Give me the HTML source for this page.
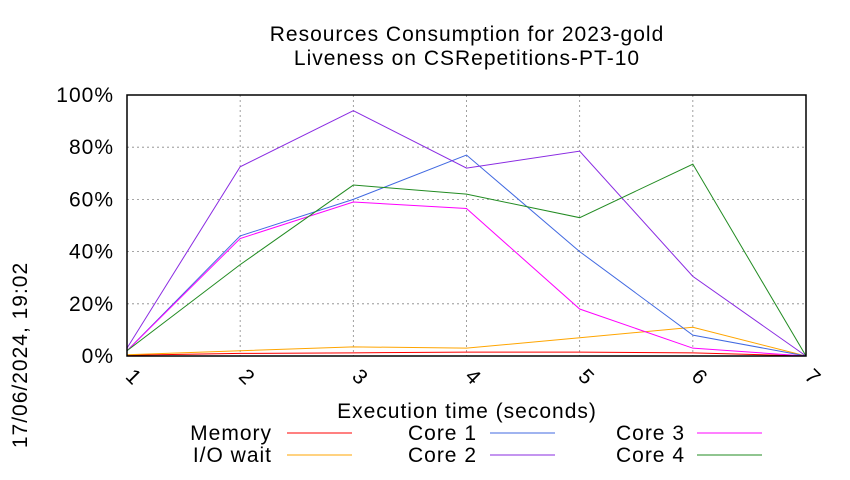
<!DOCTYPE html>
<html><head><meta charset="utf-8"><style>
body{margin:0;background:#fff}
svg{font-family:"Liberation Sans",sans-serif}
svg text{letter-spacing:1px}
</style></head><body>
<svg id="chart" width="850" height="475" xmlns="http://www.w3.org/2000/svg">
<rect width="850" height="475" fill="#fff"/>
<text x="467" y="41" font-size="21" text-anchor="middle">Resources Consumption for 2023-gold</text>
<text x="467" y="65" font-size="21" text-anchor="middle">Liveness on CSRepetitions-PT-10</text>
<g id="grid"></g>
<g id="series"></g>
<rect x="127" y="95" width="679" height="261" fill="none" stroke="#000" stroke-width="1.5"/>
<g id="ticks"></g>
<text x="467" y="418" font-size="21" text-anchor="middle">Execution time (seconds)</text>
<text transform="translate(27,355) rotate(-90)" font-size="21" text-anchor="middle">17/06/2024, 19:02</text>
<g id="legend"></g>
</svg>
<script>
const xValues=[1,2,3,4,5,6,7];
const yTicks=[0,20,40,60,80,100];
const seriesNames=["Memory","I/O wait","Core 1","Core 2","Core 3","Core 4"];
const memory=[0.3,1,1.2,1.5,1.5,1.2,0];
const ioWait=[0.5,2,3.5,3,7,11,0];
const core1=[2,46,60,77,40,8,0];
const core2=[3,72.5,94,72,78.5,30.5,0];
const core3=[2,45,59,56.5,18,3,0];
const core4=[2,35,65.5,62,53,73.5,0];
const colors=["#ff0000","#ffa500","#4169e1","#8a2be2","#ff00ff","#228b22"];
const allSeries=[memory,ioWait,core1,core2,core3,core4];
const NS="http://www.w3.org/2000/svg";
const X=v=>127+(v-1)*(679/6);
const Y=v=>356-v*2.61;
function mk(t,a){const e=document.createElementNS(NS,t);for(const k in a)e.setAttribute(k,a[k]);return e;}
const grid=document.getElementById('grid'),ticks=document.getElementById('ticks');
yTicks.forEach(t=>{
  const l=mk('line',{x1:127,x2:806,y1:Y(t),y2:Y(t),stroke:'#888','stroke-dasharray':'2,3','stroke-width':0.8});
  
  
  grid.appendChild(l);
  const tx=mk('text',{x:114,y:Y(t)+7,'font-size':21,'text-anchor':'end'});tx.textContent=t+'%';
  
  
  ticks.appendChild(tx);
});
xValues.forEach(v=>{
  const l=mk('line',{x1:X(v),x2:X(v),y1:95,y2:356,stroke:'#888','stroke-dasharray':'2,3','stroke-width':0.8});
  
  
  grid.appendChild(l);
  const tx=mk('text',{transform:`translate(${X(v)+2},382) rotate(45)`,'font-size':21,'text-anchor':'middle'});tx.textContent=v;
  
  
  ticks.appendChild(tx);
});
const sg=document.getElementById('series'),lg=document.getElementById('legend');
const legPos=[[272,287,433],[272,287,455],[477,490,433],[477,490,455],[685,697,433],[685,697,455]];
allSeries.forEach((s,i)=>{
  const p=mk('polyline',{points:s.map((v,j)=>X(xValues[j])+','+Y(v)).join(' '),fill:'none',stroke:colors[i],'stroke-width':1});
  
  
  sg.appendChild(p);
  const [tx,lx,ly]=legPos[i];
  const t=mk('text',{x:tx,y:ly+7,'font-size':21,'text-anchor':'end'});t.textContent=seriesNames[i];
  
  
  lg.appendChild(t);
  const ln=mk('line',{x1:lx,x2:lx+65,y1:ly,y2:ly,stroke:colors[i],'stroke-width':1});
  
  
  lg.appendChild(ln);
});
</script>
</body></html>
